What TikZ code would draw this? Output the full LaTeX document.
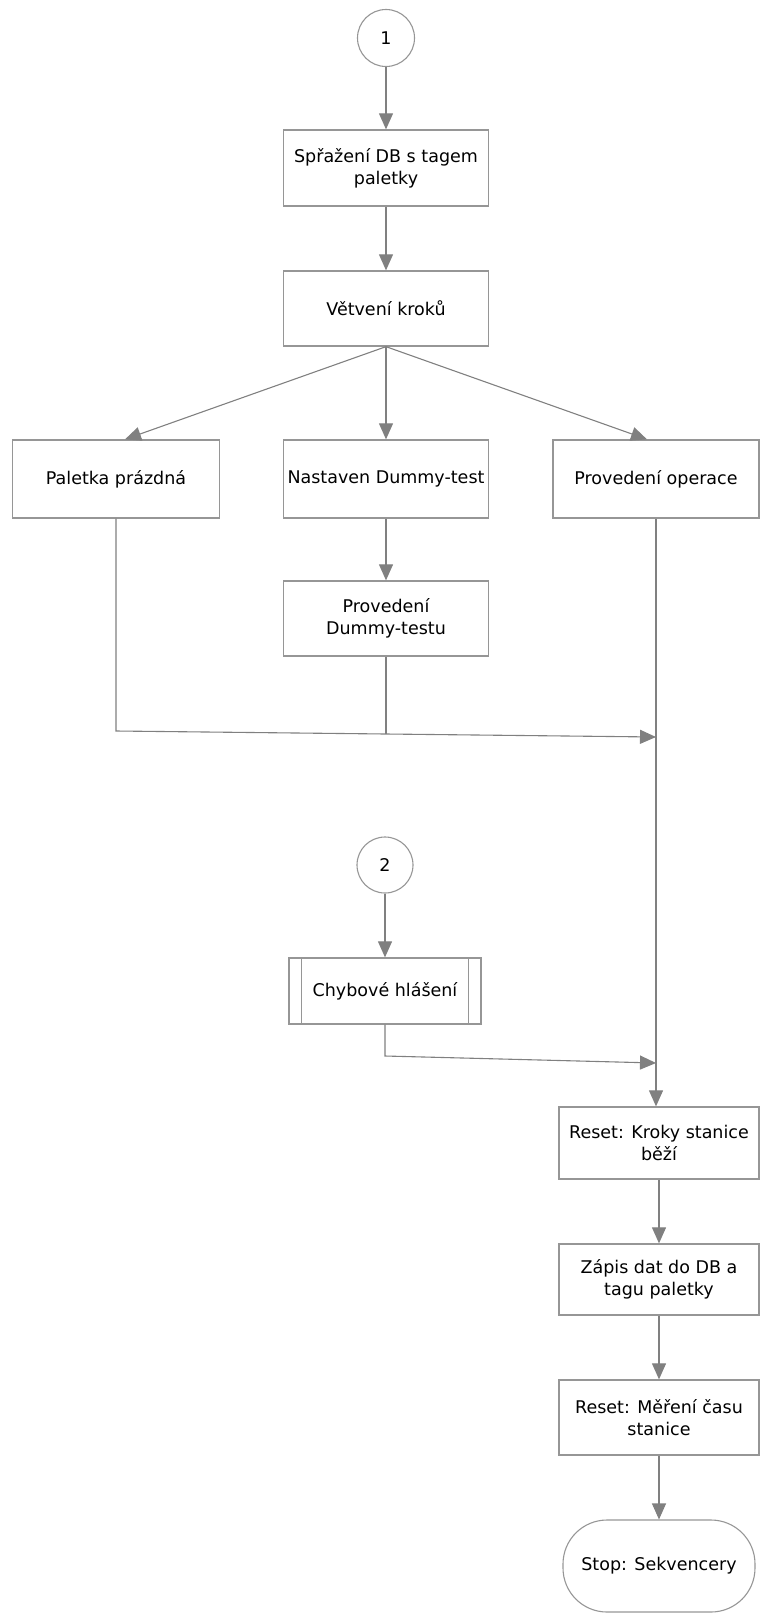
\documentclass[tikz,border=0pt]{standalone}
\usepackage{fontspec}
\setmainfont{DejaVu Sans}
\usetikzlibrary{arrows.meta}

\definecolor{linegray}{HTML}{808080}
\definecolor{framegray}{HTML}{969696}

\begin{document}
\begin{tikzpicture}[x=1pt,y=-1pt,
	every node/.style={font=\fontsize{17.5}{22}\selectfont, align=center, inner sep=0pt},
	box/.style={draw=framegray, line width=1.3pt, minimum width=205pt, minimum height=76pt},
	conn/.style={draw=framegray, line width=1.1pt, circle, minimum size=57pt},
	stopbox/.style={draw=framegray, line width=1.1pt, rounded corners=44pt, minimum width=192pt, minimum height=92pt},
	flow/.style={draw=linegray, line width=1.1pt, -{Triangle[length=16pt,width=14pt]}},
	line/.style={draw=linegray, line width=1.1pt}]

	\useasboundingbox (0,0) rectangle (761,1614);

	\node[conn] (c1) at (386,38) {1};

	\node[box] (sprazeni) at (386,168) {Spřažení DB s tagem\\paletky};

	\node[box, minimum height=75pt] (vetveni) at (386,308.5) {Větvení kroků};

	\node[box, minimum width=207pt, minimum height=78pt] (prazdna) at (116,479) {Paletka prázdná};

	\node[box, minimum height=78pt] (dummy) at (386,479) {Nastaven Dummy-test};

	\node[box, minimum width=206pt, minimum height=78pt] (operace) at (656,479) {Provedení operace};

	\node[box, minimum height=75pt] (dtest) at (386,618.5) {Provedení\\Dummy-testu};

	\node[conn, minimum size=56pt] (c2) at (385,865) {2};

	\node[box, minimum width=192pt, minimum height=66pt] (chyba) at (385,991) {Chybové hlášení};
	\draw[framegray, line width=1.1pt] ([xshift=13pt]chyba.north west) -- ([xshift=13pt]chyba.south west);
	\draw[framegray, line width=1.1pt] ([xshift=-13pt]chyba.north east) -- ([xshift=-13pt]chyba.south east);

	\node[box, minimum width=200pt, minimum height=72pt] (reset) at (659,1143) {Reset: Kroky stanice\\běží};

	\node[box, minimum width=200pt, minimum height=71pt] (zapis) at (659,1279.5) {Zápis dat do DB a\\tagu paletky};

	\node[box, minimum width=200pt, minimum height=75pt] (mereni) at (659,1417.5) {Reset: Měření času\\stanice};

	\node[stopbox] (stop) at (659,1566) {Stop: Sekvencery};

	\coordinate (k1) at (116,731);
	\coordinate (j1) at (656,737);
	\coordinate (k2) at (385,1056);
	\coordinate (j2) at (656,1063);

	\draw[flow] (c1) -- (sprazeni);
	\draw[flow] (sprazeni) -- (vetveni);
	\draw[flow] (vetveni.south) -- ([xshift=9pt]prazdna.north);
	\draw[flow] (vetveni.south) -- (dummy.north);
	\draw[flow] (vetveni.south) -- ([xshift=-9pt]operace.north);
	\draw[flow] (dummy) -- (dtest);

	\draw[flow] (prazdna.south) -- (k1) -- (j1);
	\draw[line] (dtest.south) -- ++(0,77);

	\draw[flow] (c2) -- (chyba);
	\draw[flow] (chyba.south) -- (k2) -- (j2);

	\draw[flow] (operace.south) -- (operace.south |- reset.north);
	\draw[flow] (reset) -- (zapis);
	\draw[flow] (zapis) -- (mereni);
	\draw[flow] (mereni) -- (stop);
\end{tikzpicture}
\end{document}
